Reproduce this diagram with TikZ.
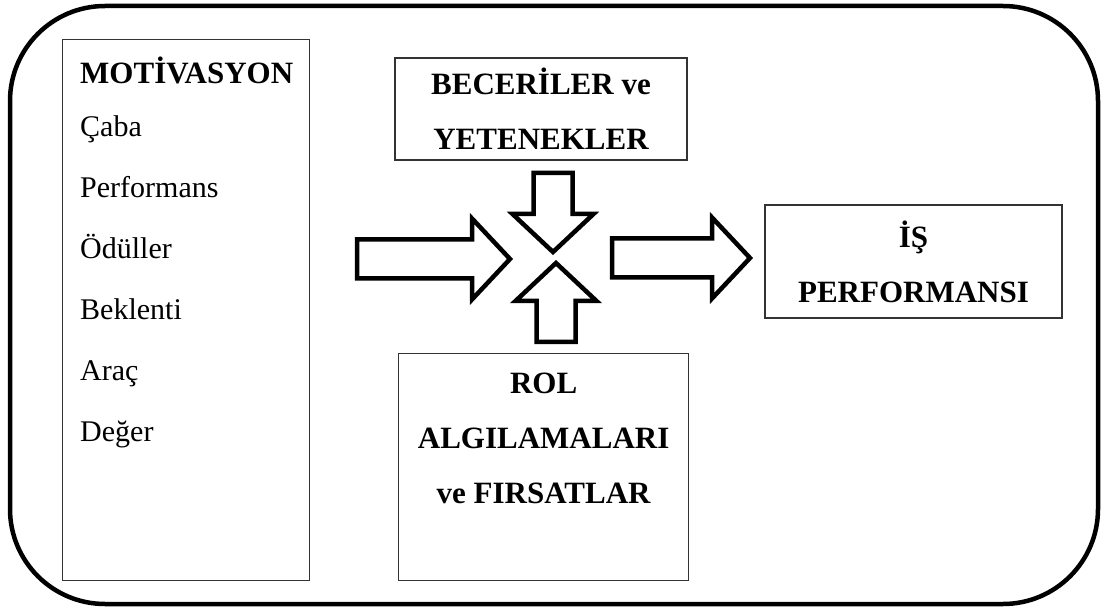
\documentclass[tikz,border=0pt]{standalone}
\usepackage{fontspec}
\setmainfont{Liberation Serif}
\usetikzlibrary{positioning}

\tikzset{
  kutu/.style={draw=black!80, line width=1.3pt, inner sep=0pt},
  baslik/.style={font=\fontsize{31}{55}\selectfont\bfseries, align=center, inner sep=0pt},
  madde/.style={font=\fontsize{30}{36}\selectfont, anchor=base west, inner sep=0pt},
  okcizgi/.style={draw=black, line width=4.5pt, fill=white, line join=miter},
  pics/kalinok/.style={code={
    \path[okcizgi] (0,-19.5) -- (#1-38,-19.5) -- (#1-38,-40.5) -- (#1,0)
      -- (#1-38,40.5) -- (#1-38,19.5) -- (0,19.5) -- cycle;
  }}
}

\begin{document}
\begin{tikzpicture}[x=1pt,y=1pt]
  \useasboundingbox (0,0) rectangle (1103,-609);
  \draw[line width=4.5pt, rounded corners=95pt] (10,-6) rectangle (1098,-604);

  \node[kutu, anchor=north west, minimum width=247pt, minimum height=541pt] (motivasyon) at (62,-39) {};
  \node[madde, font=\fontsize{31}{36}\selectfont\bfseries] (m0) at (80,-84) {MOTİVASYON};
  \foreach \ad [count=\i] in {Çaba,Performans,Ödüller,Beklenti,Araç,Değer}
    \node[madde] (m\i) at (80,-76-61*\i) {\ad};

  \node[kutu, baslik, minimum width=292pt, minimum height=102pt] (beceri) at (541,-109) {BECERİLER ve\\YETENEKLER};
  \node[kutu, baslik, minimum width=297pt, minimum height=113pt] (isperf) at (913.5,-261.5) {İŞ\\PERFORMANSI};
  \node[kutu, anchor=north west, minimum width=290pt, minimum height=227pt] (rol) at (398,-353) {};
  \node[baslik, below=20pt of rol.north] (roltext) {ROL\\ALGILAMALARI\\ve FIRSATLAR};

  \pic at (357,-259) {kalinok=153};
  \pic at (612,-258) {kalinok=138};
  \pic[rotate=-90] at (553,-173) {kalinok=79};
  \pic[rotate=90] at (556,-342) {kalinok=79};
\end{tikzpicture}
\end{document}
